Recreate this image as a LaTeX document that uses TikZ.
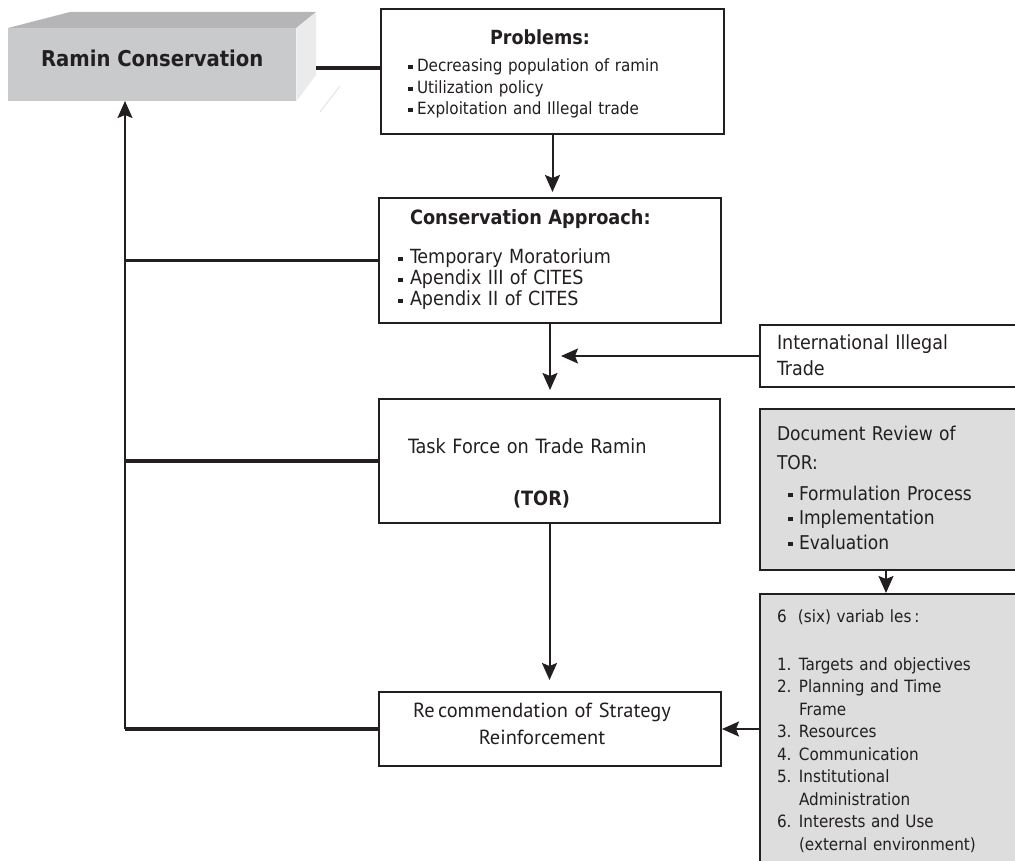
\documentclass[tikz,border=0pt]{standalone}
\usepackage{fontspec}
\setmainfont{DejaVuSansCondensed}[Extension=.ttf, BoldFont=DejaVuSansCondensed-Bold]
\newfontfamily\recfont{PT Sans}
\usetikzlibrary{arrows.meta}
\definecolor{inkc}{HTML}{231F20}
\definecolor{rfrontc}{HTML}{C9CACC}
\definecolor{rtopc}{HTML}{B5B5B7}
\definecolor{rsidec}{HTML}{EBEBEB}
\definecolor{greyfill}{HTML}{DCDDDC}
\newcommand{\sqb}[1][4pt]{\rule[\dimexpr0.27em-2pt\relax]{5pt}{4pt}\hspace{#1}}
\newcommand{\numb}[1]{\makebox[22pt][l]{#1}}

\begin{document}
\begin{tikzpicture}[x=1pt, y=-1pt, line join=miter, text=inkc,
    box/.style={draw=inkc, line width=2pt, anchor=north west, inner ysep=0pt, align=left},
    greybox/.style={box, fill=greyfill},
    bar/.style={draw=inkc, line width=3.5pt},
    link/.style={draw=inkc, line width=2pt, -{Stealth[length=17pt, width=15pt, inset=3pt]}}]
  \useasboundingbox (0,0) rectangle (1015,861);
  \clip (0,0) rectangle (1015,861);

  % block
  \node[fill=rfrontc, anchor=north west, inner sep=0pt, minimum width=288pt, text height=38pt, text depth=35pt,
        font=\bfseries\fontsize{21.8}{24}\selectfont] (ramin) at (8,28) {Ramin Conservation};
  \fill[rtopc] (ramin.north west) -- (70,12) -- (316,12) -- (ramin.north east) -- cycle;
  \fill[rsidec] (ramin.north east) -- (316,12) -- (316,75) -- (ramin.south east) -- cycle;
  \draw[gray!25, line width=0.8pt] (320,112) -- (340,86);

  \node[box, text width=289pt, inner xsep=27pt, text height=36pt, text depth=89pt,
        font=\fontsize{16.9}{21.5}\selectfont] (problems) at (380,8)
        {\hspace*{82pt}{\bfseries\fontsize{19.5}{21.5}\selectfont Problems:}\\[5.5pt]
         \sqb Decreasing population of ramin\\
         \sqb Utilization policy\\
         \sqb Exploitation and Illegal trade};
  \node[box, text width=304pt, inner xsep=19pt, text height=27pt, text depth=98pt,
        font=\fontsize{19.5}{21}\selectfont] (cons) at (378,197)
        {\hspace*{12pt}{\bfseries\fontsize{19.7}{21}\selectfont Conservation Approach:}\\[18pt]
         \sqb[7pt]Temporary Moratorium\\
         \sqb[7pt]Apendix III of CITES\\
         \sqb[7pt]Apendix II of CITES};
  \node[box, text width=283pt, inner xsep=29pt, text height=54pt, text depth=70pt,
        font=\fontsize{19.7}{22}\selectfont] (tor) at (378,398)
        {Task Force on Trade Ramin\\[30pt]
         \hspace*{105pt}{\bfseries (TOR)}};
  \node[box, align=center, text width=310pt, inner xsep=16pt, text height=25.6pt, text depth=48.4pt,
        font=\recfont\fontsize{20.4}{27}\selectfont] (rec) at (378,691)
        {\hspace*{-16pt}Re\,commendation of Strategy\\
         \hspace*{-16pt}Reinforcement};

  \node[box, text width=246pt, inner xsep=17pt, text height=24pt, text depth=38pt,
        font=\fontsize{19.5}{26}\selectfont] (intl) at (759,324)
        {International Illegal\\Trade};
  \node[greybox, text width=246pt, inner xsep=17pt, text height=31pt, text depth=130pt,
        font=\fontsize{19}{24.5}\selectfont] (doc) at (759,408)
        {Document Review of\\[4.5pt]
         TOR:\\[6.5pt]
         \hspace*{11pt}\sqb[6pt]Formulation Process\\
         \hspace*{11pt}\sqb[6pt]Implementation\\
         \hspace*{11pt}\sqb[6pt]Evaluation};
  \node[greybox, text width=246pt, inner xsep=17pt, text height=28pt, text depth=259pt,
        font=\fontsize{16.9}{22.5}\selectfont] (sixvar) at (759,593)
        {6\ \ (six) variab les\,:\\[25.5pt]
         \numb{1.}Targets and objectives\\
         \numb{2.}Planning and Time\\
         \numb{}Frame\\
         \numb{3.}Resources\\
         \numb{4.}Communication\\
         \numb{5.}Institutional\\
         \numb{}Administration\\
         \numb{6.}Interests and Use\\
         \numb{}(external environment)};

  % connectors
  \coordinate (rside) at (316,68);
  \coordinate (spine) at (125,101);
  \draw[bar] (rside) -- (rside -| problems.west);
  \draw[bar] (cons.west) -- (cons.west -| spine);
  \draw[bar] (tor.west) -- (tor.west -| spine);
  \draw[bar] (rec.west) -- (rec.west -| spine);
  \draw[link] (rec.west -| spine) -- (spine);
  \draw[link, shorten >=5pt] (problems.south) -- (problems.south |- cons.north);
  \draw[link, shorten >=8pt] (cons.south) -- (cons.south |- tor.north);
  \draw[link, shorten >=11pt] (intl.west) -- (intl.west -| cons.south);
  \draw[link, shorten >=11pt] (tor.south) -- (tor.south |- rec.north);
  \draw[link] ([xshift=-14pt]doc.south) -- ([xshift=-14pt]sixvar.north);
  \draw[link] (sixvar.west |- rec.east) -- (rec.east);
\end{tikzpicture}
\end{document}
